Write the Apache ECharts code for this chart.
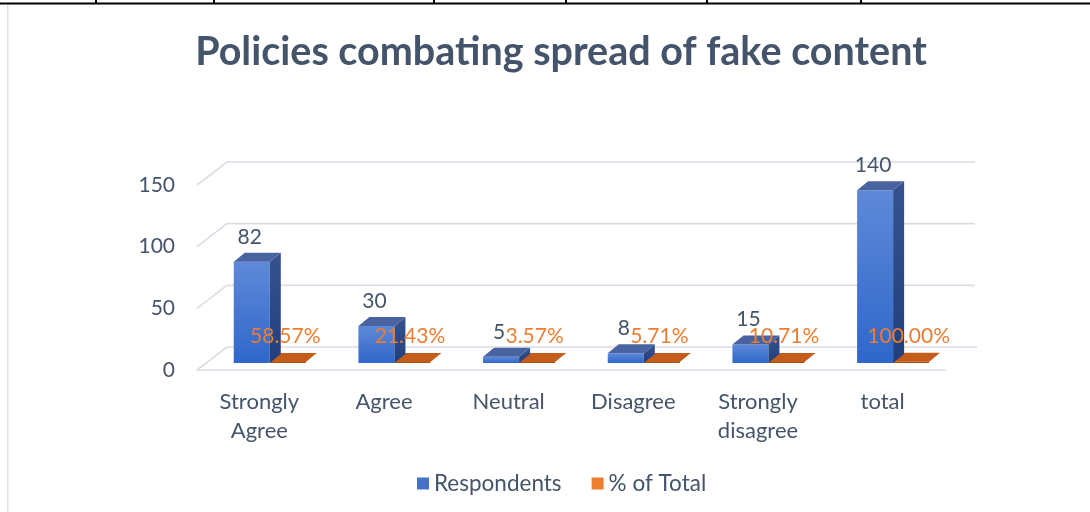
<!DOCTYPE html>
<html>
<head>
<meta charset="utf-8">
<style>
  html, body { margin: 0; padding: 0; background: #fff; }
  #chart { width: 1090px; height: 512px; }
</style>
<script src="https://cdn.jsdelivr.net/npm/echarts@6/dist/echarts.min.js"></script>
</head>
<body>
<div id="chart"></div>
<script>
// ---- data ----
const categories = ['Strongly\nAgree', 'Agree', 'Neutral', 'Disagree', 'Strongly\ndisagree', 'total'];
const respondents = [82, 30, 5, 8, 15, 140];
const shareOfTotal = [0.5857, 0.2143, 0.0357, 0.0571, 0.1071, 1.0];
const yTicks = [0, 50, 100, 150];

const FONT = 'Lato';
const TXT = '#44546A';
const LIFT = 7, DX = 11, DY = -9;

const chart = echarts.init(document.getElementById('chart'));

function boxGeom(params, api) {
  const i = api.value(0), v = api.value(1);
  const base = api.coord([i, 0]);
  const top = api.coord([i, v]);
  const band = api.size([1, 0])[0];
  const w = band * 0.289;
  return { i, v, cx: base[0], yb: base[1] - LIFT, yt: Math.min(top[1] - LIFT, base[1] - LIFT - 1), w };
}

function blueItem(params, api) {
  const g = boxGeom(params, api);
  const x0 = g.cx - g.w * 0.71, x1 = x0 + g.w;
  return {
    type: 'group',
    children: [
      { type: 'rect', shape: { x: x0, y: g.yt, width: g.w, height: g.yb - g.yt },
        style: { fill: new echarts.graphic.LinearGradient(0, 0, 0, 1, [
          { offset: 0, color: '#5E89D8' }, { offset: 1, color: '#2F67CA' }]) } },
      { type: 'polygon', shape: { points: [[x1, g.yt], [x1 + DX, g.yt + DY], [x1 + DX, g.yb + DY], [x1, g.yb]] },
        style: { fill: new echarts.graphic.LinearGradient(0, 0, 0, 1, [
          { offset: 0, color: '#36538F' }, { offset: 1, color: '#213F7D' }]) } },
      { type: 'polygon', shape: { points: [[x0, g.yt], [x0 + DX, g.yt + DY], [x1 + DX, g.yt + DY], [x1, g.yt]] },
        style: { fill: '#48639F' } },
      { type: 'text', style: { text: String(g.v), x: (x0 + x1) / 2 - 2, y: g.yt + DY - 16,
        fill: TXT, font: '21px ' + FONT, align: 'center', verticalAlign: 'middle' } }
    ]
  };
}

function orangeItem(params, api) {
  const g = boxGeom(params, api);
  const x0 = g.cx - g.w * 0.71 + g.w, x1 = x0 + g.w;
  return {
    type: 'group',
    children: [
      { type: 'polygon', shape: { points: [[x0, g.yt], [x0 + DX, g.yt + DY], [x1 + DX, g.yt + DY], [x1, g.yt]] },
        style: { fill: '#C45D1B' } },
      { type: 'rect', shape: { x: x0, y: g.yt, width: g.w, height: g.yb - g.yt },
        style: { fill: '#B0500F' } }
    ]
  };
}

function pctLabelItem(params, api) {
  const g = boxGeom(params, api);
  const x0 = g.cx - g.w * 0.71 + g.w, x1 = x0 + g.w;
  return { type: 'text', style: { text: (g.v * 100).toFixed(2) + '%', x: (x0 + x1) / 2 - 2.5, y: g.yt + DY - 16.5,
    fill: '#ED7D31', font: '21px ' + FONT, align: 'center', verticalAlign: 'middle' } };
}

function gridLineItem(params, api) {
  const v = api.value(1);
  const p = api.coord([0, v]);
  const cs = params.coordSys;
  const xl = cs.x, y = p[1];
  const xr = cs.x + cs.width + (v === 0 ? 32 : 30);
  return { type: 'polyline', shape: { points: [[xl, y], [xl + 30, y - 23], [xr, y - 23]] },
    style: { stroke: '#D9DDE5', lineWidth: 1.6, fill: null } };
}

chart.setOption({
  animation: false,
  title: {
    text: 'Policies combating spread of fake content',
    left: 556, top: 27, textAlign: 'center',
    textStyle: { fontFamily: FONT, fontWeight: 'bold', fontSize: 39.5, color: TXT }
  },
  legend: {
    data: ['Respondents', '% of Total'],
    left: 412, top: 467, icon: 'rect', itemWidth: 12, itemHeight: 12, itemGap: 30,
    textStyle: { fontFamily: FONT, fontSize: 22.5, color: TXT }
  },
  grid: { left: 197, right: 145, top: 185, bottom: 142 },
  xAxis: {
    type: 'category', data: categories,
    axisLine: { lineStyle: { color: '#D9DDE5', width: 1.6 } },
    axisTick: { show: false },
    axisLabel: { fontFamily: FONT, fontSize: 22, color: TXT, lineHeight: 29, margin: 17, interval: 0 }
  },
  yAxis: {
    type: 'value', min: 0, max: 150, interval: 50,
    axisLine: { show: false }, axisTick: { show: false }, splitLine: { show: false },
    axisLabel: { fontFamily: FONT, fontSize: 21, color: TXT, margin: 22 }
  },
  graphic: [
    { type: 'rect', shape: { x: 0, y: 2.5, width: 1090, height: 2 }, style: { fill: '#000' } },
    ...[96, 214, 434, 566, 707, 861].map(x => ({ type: 'rect', shape: { x: x - 1, y: 0, width: 2, height: 4 }, style: { fill: '#000' } })),
    { type: 'rect', shape: { x: 7, y: 5, width: 1.5, height: 507 }, style: { fill: '#DCE1E8' } }
  ],
  series: [
    { type: 'custom', name: 'grid', z: 1, clip: false, renderItem: gridLineItem,
      data: yTicks.map(v => [0, v]), silent: true },
    { type: 'custom', name: '% of Total', z: 2, clip: false, renderItem: orangeItem,
      itemStyle: { color: '#ED7D31' }, data: shareOfTotal.map((v, i) => [i, v]) },
    { type: 'custom', name: 'Respondents', z: 3, clip: false, renderItem: blueItem,
      itemStyle: { color: '#4472C4' }, data: respondents.map((v, i) => [i, v]) },
    { type: 'custom', name: 'pct labels', z: 4, clip: false, renderItem: pctLabelItem,
      data: shareOfTotal.map((v, i) => [i, v]), silent: true }
  ]
});
</script>
</body>
</html>
